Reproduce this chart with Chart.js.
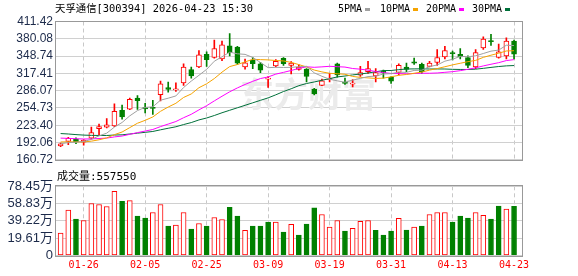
<!DOCTYPE html>
<html>
<head>
<meta charset="utf-8">
<script src="https://cdn.jsdelivr.net/npm/chart.js@4.4.1/dist/chart.umd.min.js"></script>
<style>
  body { margin: 0; background: #fff; }
  #wrap { position: relative; width: 578px; height: 276px; overflow: hidden; }
  canvas { position: absolute; left: 0; }
  #price { top: 0; }
  #vol { top: 166px; }
  .txt { position: absolute; white-space: pre; color: #000; font-family: "DejaVu Sans Mono", "Noto Sans CJK SC", monospace; line-height: 12px; }
  .key { position: absolute; width: 5px; height: 3px; top: 8px; }
</style>
</head>
<body>
<div id="wrap">
  <canvas id="price" width="578" height="170"></canvas>
  <canvas id="vol" width="578" height="110"></canvas>
  <div class="txt" style="left:55px; top:2px; font-size:10.4px;">天孚通信[300394] 2026-04-23 15:30</div>
  <div class="txt" style="left:338px; top:3px; font-size:10px;">5PMA</div>
  <div class="key" style="left:365px; background:#a0a0a0;"></div>
  <div class="txt" style="left:380px; top:3px; font-size:10px;">10PMA</div>
  <div class="key" style="left:413px; background:#f5a300;"></div>
  <div class="txt" style="left:426px; top:3px; font-size:10px;">20PMA</div>
  <div class="key" style="left:459px; background:#ff00ff;"></div>
  <div class="txt" style="left:472px; top:3px; font-size:10px;">30PMA</div>
  <div class="key" style="left:505px; background:#00703a;"></div>
  <div class="txt" style="left:57px; top:171px; font-size:11px;">成交量:557550</div>
</div>
<script>
const dates = ['01-21','01-22','01-23','01-26','01-27','01-28','01-29','01-30','02-02','02-03',
  '02-04','02-05','02-06','02-09','02-10','02-11','02-12','02-13','02-24','02-25',
  '02-26','02-27','03-02','03-03','03-04','03-05','03-06','03-09','03-10','03-11',
  '03-12','03-13','03-16','03-17','03-18','03-19','03-20','03-23','03-24','03-25',
  '03-26','03-27','03-30','03-31','04-01','04-02','04-03','04-07','04-08','04-09',
  '04-10','04-13','04-14','04-15','04-16','04-17','04-20','04-21','04-22','04-23'];
const labelDays = ['01-26','02-05','02-25','03-09','03-19','03-31','04-13','04-23'];

const opens = [186.0,194.0,198.1,192.9,199.8,217.0,219.9,222.2,250.3,252.6,
  272.7,255.5,255.5,279.0,291.7,287.5,300.3,324.4,329.0,352.0,
  346.2,343.4,367.5,365.2,329.0,341.7,334.8,307.0,330.7,344.5,
  332.0,324.5,325.0,288.8,295.7,306.6,334.8,301.4,298.0,314.1,
  320.4,312.9,321.5,310.1,319.2,329.0,338.2,333.6,330.2,337.1,
  347.4,354.9,352.0,346.2,329.0,363.5,376.7,346.2,349.1,376.1];
const highs = [191.2,201.5,200.4,197.5,219.9,225.6,235.4,262.4,260.1,272.7,
  277.3,263.0,268.7,303.2,301.4,300.3,334.8,329.0,358.9,356.6,
  377.8,376.1,389.3,366.3,343.4,346.2,337.6,311.8,342.2,346.2,
  338.7,333.0,326.1,290.5,307.2,317.5,335.9,308.9,306.0,330.2,
  339.4,326.0,323.3,311.8,334.8,335.9,345.1,335.9,339.4,360.6,
  366.3,357.7,362.3,349.1,360.6,383.6,388.2,370.4,381.8,377.8];
const lows = [184.3,188.3,190.0,187.2,198.1,205.5,218.5,221.0,234.3,251.5,
  252.0,245.7,242.9,267.6,283.1,284.8,295.7,308.9,327.9,330.2,
  345.0,340.5,349.1,333.6,325.0,326.1,318.7,291.7,329.0,331.9,
  316.3,323.0,302.0,278.5,295.0,302.0,310.6,297.4,293.0,311.8,
  317.5,302.0,308.9,299.2,314.7,320.4,333.6,317.5,329.0,331.9,
  343.4,341.7,343.4,327.9,326.1,360.6,368.1,345.1,343.4,343.4];
const closes = [189.5,199.8,193.5,196.3,210.1,221.0,223.9,248.6,238.3,270.4,
  268.1,253.0,254.0,298.6,288.2,288.5,329.0,312.9,350.8,342.2,
  362.3,369.2,354.9,335.9,336.5,334.8,323.3,308.0,339.4,334.8,
  336.0,329.0,311.8,280.2,303.7,308.9,314.7,299.2,299.5,318.7,
  326.1,318.7,318.0,303.2,331.9,324.4,335.9,320.4,335.9,346.2,
  358.9,353.1,347.4,331.9,354.9,379.5,375.0,356.6,376.1,352.0];
const volumes = [254000,514000,412000,397000,589000,578000,555000,728000,615000,623000,
  446000,423000,487000,578000,333000,344000,487000,299000,363000,333000,
  431000,408000,547000,446000,284000,333000,333000,378000,378000,265000,
  352000,231000,355000,540000,465000,322000,397000,277000,307000,386000,
  397000,284000,231000,277000,420000,288000,322000,333000,465000,487000,
  487000,378000,446000,423000,487000,454000,412000,559000,525000,557550];

const ma5 = [189.9,191.9,192.6,193.8,197.8,204.1,209.0,220.0,228.4,240.4,
  249.9,255.7,256.8,268.8,272.4,276.5,291.7,303.4,313.9,324.7,
  339.4,347.5,355.9,352.9,351.8,346.3,337.1,327.7,328.4,328.1,
  328.3,329.4,330.2,318.4,312.1,306.7,303.9,301.3,305.2,308.2,
  311.6,312.4,316.2,316.9,319.6,319.2,322.7,323.2,329.7,332.6,
  339.5,342.9,348.3,347.5,349.2,353.4,357.7,359.6,368.4,367.8];
const ma10 = [193.0,193.3,193.1,193.1,194.5,197.0,200.4,206.3,211.1,219.1,
  227.0,232.3,238.4,248.6,256.4,263.2,273.7,280.1,291.4,298.5,
  308.0,319.6,329.7,333.4,338.2,342.9,342.3,341.8,340.7,339.9,
  337.3,333.3,329.0,323.4,320.1,317.5,316.7,315.8,311.8,310.2,
  309.2,308.2,308.8,311.1,313.9,315.4,317.6,319.7,323.3,326.1,
  329.4,332.8,335.7,338.6,340.9,346.4,350.3,353.9,358.0,358.5];
const ma20 = [200.0,199.6,198.9,198.4,198.6,199.3,200.1,202.2,203.8,206.9,
  210.0,212.8,215.7,220.9,225.5,230.1,237.0,243.2,251.2,258.8,
  267.5,275.9,284.0,291.0,297.3,303.0,308.0,310.9,316.0,319.2,
  322.6,326.4,329.3,328.4,329.2,330.2,329.5,328.8,326.2,325.0,
  323.2,320.7,318.9,317.2,317.0,316.5,317.1,317.7,317.6,318.1,
  319.3,320.5,322.3,324.8,327.4,330.9,333.9,336.8,340.6,342.3];
const ma30 = [208.3,207.5,206.4,205.5,205.0,204.8,204.8,205.6,206.0,207.5,
  209.0,210.5,212.1,215.1,217.9,220.6,224.6,228.2,233.0,236.5,
  241.0,246.0,250.5,255.0,259.5,264.0,268.5,273.0,278.5,284.5,
  289.5,295.1,299.0,301.8,304.9,307.8,310.9,312.6,314.6,316.2,
  318.1,320.3,322.5,322.6,324.1,325.3,325.5,325.7,325.3,325.4,
  325.3,324.7,324.5,324.4,325.0,326.5,328.2,329.8,331.0,331.6];

const priceTicks = [160.72,192.06,223.40,254.73,286.07,317.41,348.74,380.08,411.42];
const volTicks = [0,196100,392200,588300,784500];

const RED = '#ff0000', GREEN = '#008000';
const tickIdx = labelDays.map(d => dates.indexOf(d));
const candleUp = i => closes[i] >= opens[i];
const volUp = i => i === 0 || closes[i] >= closes[i - 1];
const pts = arr => arr.map((v, i) => ({x: i, y: v}));

const frame = {
  id: 'frame',
  afterDraw(chart) {
    const {ctx, chartArea: a} = chart;
    ctx.save();
    ctx.strokeStyle = '#999';
    ctx.lineWidth = 1;
    ctx.strokeRect(Math.round(a.left) - 0.5, Math.round(a.top) - 0.5,
      Math.round(a.right) - Math.round(a.left), Math.round(a.bottom) - Math.round(a.top) + 1);
    ctx.restore();
  }
};

const watermark = {
  id: 'watermark',
  beforeDatasetsDraw(chart) {
    const ctx = chart.ctx;
    ctx.save();
    ctx.fillStyle = '#ebebeb';
    ctx.font = 'bold 34px "Noto Sans CJK SC"';
    ctx.textBaseline = 'middle';
    ctx.fillText('东方财富', 240, 94);
    ctx.restore();
  }
};

function xScale(showLabels) {
  return {
    type: 'linear', min: -0.6, max: 60.1, offset: false,
    afterBuildTicks: s => { s.ticks = tickIdx.map(v => ({value: v})); },
    afterFit: s => { s.height = showLabels ? 20.5 : 0; },
    ticks: {
      display: showLabels, autoSkip: false, maxRotation: 0, padding: 4,
      color: RED, font: {family: 'DejaVu Sans Mono', size: 10},
      callback: v => dates[v]
    },
    grid: {color: '#c8c8c8', drawTicks: false, offset: false},
    border: {display: false, dash: [4, 3]}
  };
}

const yTickFont = {family: '"Liberation Sans", "Noto Sans CJK SC"', size: 12};

new Chart(document.getElementById('price'), {
  type: 'bar',
  data: {
    datasets: [
      {type: 'line', data: pts(ma5), borderColor: '#a0a0a0', borderWidth: 1, pointRadius: 0, fill: false, order: 0},
      {type: 'line', data: pts(ma10), borderColor: '#f5a300', borderWidth: 1, pointRadius: 0, fill: false, order: 1},
      {type: 'line', data: pts(ma20), borderColor: '#ff00ff', borderWidth: 1, pointRadius: 0, fill: false, order: 2},
      {type: 'line', data: pts(ma30), borderColor: '#00703a', borderWidth: 1, pointRadius: 0, fill: false, order: 3},
      {
        data: opens.map((o, i) => ({x: i, y: [o, closes[i]]})),
        backgroundColor: c => candleUp(c.dataIndex) ? '#fff' : GREEN,
        borderColor: c => candleUp(c.dataIndex) ? RED : GREEN,
        borderWidth: 1, borderSkipped: false, barThickness: 5, minBarLength: 1,
        grouped: false, order: 5
      },
      {
        data: lows.map((l, i) => ({x: i, y: [l, highs[i]]})),
        backgroundColor: c => candleUp(c.dataIndex) ? RED : GREEN,
        borderWidth: 0, barThickness: 1, grouped: false, order: 6
      }
    ]
  },
  options: {
    responsive: false, animation: false, events: [],
    layout: {padding: {top: 21.5, right: 55.5, bottom: 4, left: 0}},
    plugins: {legend: {display: false}, tooltip: {enabled: false}},
    scales: {
      x: xScale(false),
      y: {
        min: 160.72, max: 411.42,
        afterBuildTicks: s => { s.ticks = priceTicks.map(v => ({value: v})); },
        afterFit: s => { s.width = 56; },
        ticks: {color: '#1c2a4a', font: yTickFont, padding: 3, autoSkip: false, callback: v => v.toFixed(2)},
        grid: {color: '#d0d0d0', drawTicks: false},
        border: {display: false}
      }
    }
  },
  plugins: [watermark, frame]
});

new Chart(document.getElementById('vol'), {
  type: 'bar',
  data: {
    datasets: [{
      data: pts(volumes),
      backgroundColor: c => volUp(c.dataIndex) ? '#fff' : GREEN,
      borderColor: c => volUp(c.dataIndex) ? RED : GREEN,
      borderWidth: 1, borderSkipped: false, barThickness: 5, grouped: false
    }]
  },
  options: {
    responsive: false, animation: false, events: [],
    layout: {padding: {top: 20.3, right: 55.5, bottom: 0, left: 0}},
    plugins: {legend: {display: false}, tooltip: {enabled: false}},
    scales: {
      x: xScale(true),
      y: {
        min: 0, max: 784500,
        afterBuildTicks: s => { s.ticks = volTicks.map(v => ({value: v})); },
        afterFit: s => { s.width = 56; },
        ticks: {color: '#1c2a4a', font: {family: '"Liberation Sans", "Noto Sans CJK SC"', size: 13},
          padding: 3, autoSkip: false,
          callback: v => v === 0 ? '0' : (v / 10000).toFixed(2) + '万'},
        grid: {color: '#d0d0d0', drawTicks: false},
        border: {display: false}
      }
    }
  },
  plugins: [frame]
});
</script>
</body>
</html>
